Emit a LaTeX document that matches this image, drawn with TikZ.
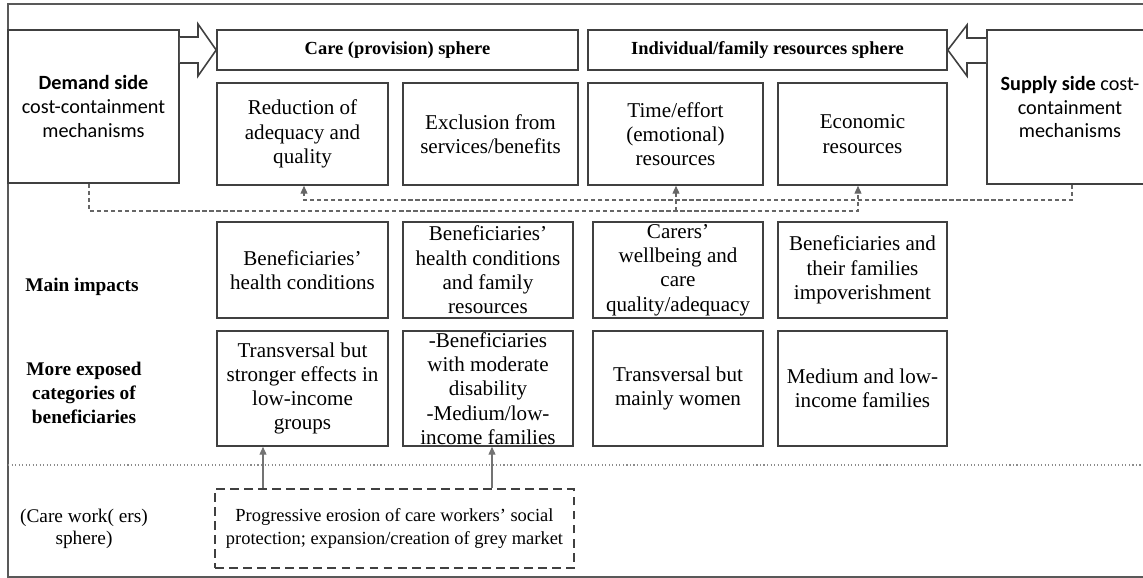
\documentclass[tikz,border=0pt]{standalone}
\usepackage{fontspec}
\setmainfont{Liberation Serif}
\newfontfamily\calib{Carlito}
\usetikzlibrary{arrows.meta,calc}
\newcommand\cell[7][cellbox]{%
  \node[#1, minimum width={(#5-#3)*0.02cm}, minimum height={(#6-#4)*0.02cm}] (#2) at ({(#3+#5)/2},{(#4+#6)/2}) {};
  \node[celltext] (#2t) at (#2.center) {#7};}
\tikzset{
  cellbox/.style={draw=black!75, line width=0.9pt, inner sep=0pt, fill=white},
  dashbox/.style={draw=black!75, line width=0.9pt, inner sep=0pt, dash pattern=on 5pt off 3pt},
  celltext/.style={align=center, inner sep=0pt, font=\fontsize{12}{13.8}\selectfont},
  hdrtext/.style={align=center, inner sep=0pt, font=\bfseries\fontsize{10.5}{12.6}\selectfont},
  rowlab/.style={align=center, inner sep=0pt, font=\bfseries\fontsize{11}{13.6}\selectfont},
  plainlab/.style={align=center, inner sep=0pt, font=\fontsize{11}{12.6}\selectfont},
  eroslab/.style={align=center, inner sep=0pt, font=\fontsize{10.5}{12.6}\selectfont},
  sidetext/.style={align=center, inner sep=0pt, font=\calib\fontsize{11.5}{13.6}\selectfont},
  dashc/.style={draw=black!60, line width=0.6pt, dash pattern=on 2.5pt off 1.5pt},
  tipc/.style={-{Triangle[length=4.5pt,width=4pt]}},
  solidc/.style={draw=black!55, line width=0.6pt},
  blockarrow/.style={draw=black!75, line width=0.9pt, fill=white, line join=miter},
  frame/.style={draw=black!65, line width=1pt},
  dotc/.style={draw=black!45, line width=0.6pt, dash pattern=on 0.6pt off 1.4pt}
}
\begin{document}
\begin{tikzpicture}[x=0.02cm, y=-0.02cm]
\useasboundingbox (0,0) rectangle (1143,578);
\clip (0,0) rectangle (1143,578);
% outer frame
\draw[frame] (1160,4) -- (8,4) -- (8,577) -- (1160,577);
% side boxes
\cell{demand}{8}{30}{179}{183}{}
\node[sidetext] (demandt) at (demand.center) {\textbf{Demand side}\\cost-containment\\mechanisms};
\cell{supply}{987}{30}{1153}{184}{}
\node[sidetext] (supplyt) at (1070,107) {\textbf{Supply side} cost-\\containment\\mechanisms};
% headers
\cell{care}{217}{30}{578}{70}{}
\node[hdrtext] (caret) at (care.center) {Care (provision) sphere};
\cell{indiv}{588}{30}{947}{70}{}
\node[hdrtext] (indivt) at (indiv.center) {Individual/family resources sphere};
% block arrows
\draw[blockarrow] (demand.east |- 0,37) -- (198,37) -- (198,24) -- (care.west) -- (198,76) -- (198,63) -- (demand.east |- 0,63) ;
\draw[blockarrow] (supply.west |- 0,38) -- (967,38) -- (967,25) -- (indiv.east) -- (967,76) -- (967,63) -- (supply.west |- 0,63);
% row 1
\cell{red}{217}{83}{388}{185}{Reduction of\\adequacy and\\quality}
\cell{excl}{403}{83}{578}{185}{Exclusion from\\services/benefits}
\cell{time}{588}{83}{763}{185}{Time/effort\\(emotional)\\resources}
\cell{econ}{778}{83}{947}{185}{Economic\\resources}
% row 2
\cell{mi1}{217}{222}{388}{318}{Beneficiaries’\\health conditions}
\cell{mi2}{403}{222}{573}{318}{Beneficiaries’\\health conditions\\and family\\resources}
\cell{mi3}{593}{222}{763}{318}{Carers’\\wellbeing and\\care\\quality/adequacy}
\cell{mi4}{778}{222}{947}{318}{Beneficiaries and\\their families\\impoverishment}
% row 3
\cell{ex1}{217}{331}{388}{446}{Transversal but\\stronger effects in\\low-income\\groups}
\cell{ex2}{403}{331}{573}{446}{-Beneficiaries\\with moderate\\disability\\-Medium/low-\\income families}
\cell{ex3}{593}{331}{763}{446}{Transversal but\\mainly women}
\cell{ex4}{778}{331}{947}{446}{Medium and low-\\income families}
% row labels
\node[rowlab] (lmain) at (82,287) {Main impacts};
\node[rowlab] (lexp) at (84,393) {More exposed\\categories of\\beneficiaries};
\node[plainlab] (lcare) at (84,529) {(Care work( ers)\\sphere)};
% dotted separator
\coordinate (sepL) at (8,465);
\coordinate (sepR) at (1160,465);
\draw[dotc] (sepL) -- (sepR);
% erosion box
\cell[dashbox]{eros}{215}{489}{574}{568}{}
\node[eroslab] (erost) at (eros.center) {Progressive erosion of care workers’ social\\protection; expansion/creation of grey market};
% dashed connectors (demand side)
\coordinate (dA) at (89,211);
\coordinate (dB) at (858,211);
\coordinate (dC) at (676,211);
\draw[dashc,tipc] (demand.south -| dA) -- (dA) -- (dB) -- (econ.south -| dB);
\draw[dashc,tipc] (dC) -- (time.south -| dC);
% dashed connectors (supply side)
\coordinate (sA) at (1072,200);
\coordinate (sB) at (304,200);
\draw[dashc,tipc] (supply.south -| sA) -- (sA) -- (sB) -- (red.south -| sB);
% erosion arrows
\coordinate (eA) at (263,480);
\coordinate (eB) at (492,480);
\draw[solidc,tipc] (eros.north -| eA) -- (ex1.south -| eA);
\draw[solidc,tipc] (eros.north -| eB) -- (ex2.south -| eB);
\end{tikzpicture}
\end{document}
